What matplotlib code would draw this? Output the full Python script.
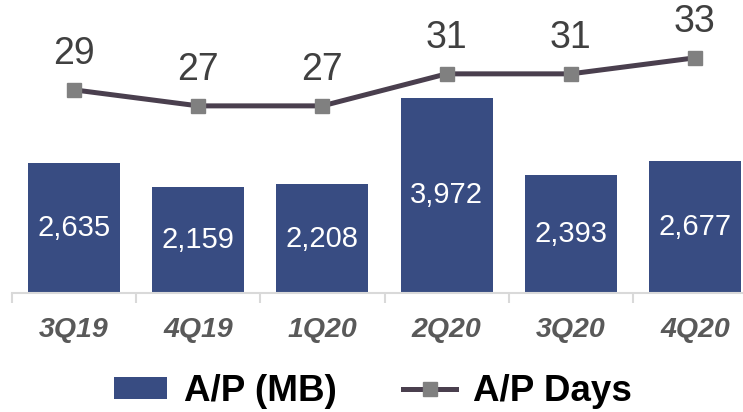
import matplotlib.pyplot as plt
from matplotlib.patches import Patch
from matplotlib.lines import Line2D

plt.rcParams['font.family'] = ['Liberation Sans', 'DejaVu Sans']

quarters = ['3Q19', '4Q19', '1Q20', '2Q20', '3Q20', '4Q20']
ap_mb = [2635, 2159, 2208, 3972, 2393, 2677]
ap_days = [29, 27, 27, 31, 31, 33]

bar_color = '#384C82'
line_color = '#4A3F4E'
marker_color = '#808080'

fig = plt.figure(figsize=(7.43, 4.12), dpi=100)
ax = fig.add_axes([12 / 743, 1 - 293 / 412, 745 / 743, 288 / 412])
x = list(range(len(quarters)))

ax.bar(x, ap_mb, width=0.74, color=bar_color, zorder=2)
for i, v in enumerate(ap_mb):
    ax.text(i, v / 2, f'{v:,}', ha='center', va='center', color='white', fontsize=21)

ax.set_xlim(-0.5, 5.5)
ax.set_ylim(0, 5854)
ax.set_xticks(x)
ax.set_xticklabels(quarters, fontsize=20.5, fontweight='bold', fontstyle='italic', color='#595959')
ax.tick_params(axis='x', length=0, pad=17)
ax.set_xticks([i + 0.5 for i in range(-1, 6)], minor=True)
ax.tick_params(axis='x', which='minor', length=7, width=1.5, color='#D9D9D9')
ax.set_yticks([])
for s in ['top', 'right', 'left']:
    ax.spines[s].set_visible(False)
ax.spines['bottom'].set_color('#D9D9D9')
ax.spines['bottom'].set_linewidth(1.5)

ax2 = ax.twinx()
ax2.plot(x, ap_days, color=line_color, linewidth=3.6, marker='s', markersize=10,
         markerfacecolor=marker_color, markeredgecolor=marker_color, zorder=3)
for i, v in enumerate(ap_days):
    ax2.annotate(str(v), (i, v), xytext=(0, 26), textcoords='offset points',
                 ha='center', va='center', fontsize=27, color='#404040')
ax2.set_ylim(3.625, 39.6)
ax2.set_yticks([])
for s in ['top', 'right', 'left', 'bottom']:
    ax2.spines[s].set_visible(False)

handles = [Patch(facecolor=bar_color, edgecolor='none'),
           Line2D([0], [0], color=line_color, linewidth=3.6, marker='s', markersize=10,
                  markerfacecolor=marker_color, markeredgecolor=marker_color)]
fig.legend(handles, ['A/P (MB)', 'A/P Days'], loc='center', bbox_to_anchor=(373 / 743, 0.05),
           ncol=2, frameon=False, prop={'size': 26.5, 'weight': 'bold'},
           handlelength=1.45, handleheight=0.55, handletextpad=0.45, columnspacing=1.8)

fig.savefig('out.png', dpi=100)
